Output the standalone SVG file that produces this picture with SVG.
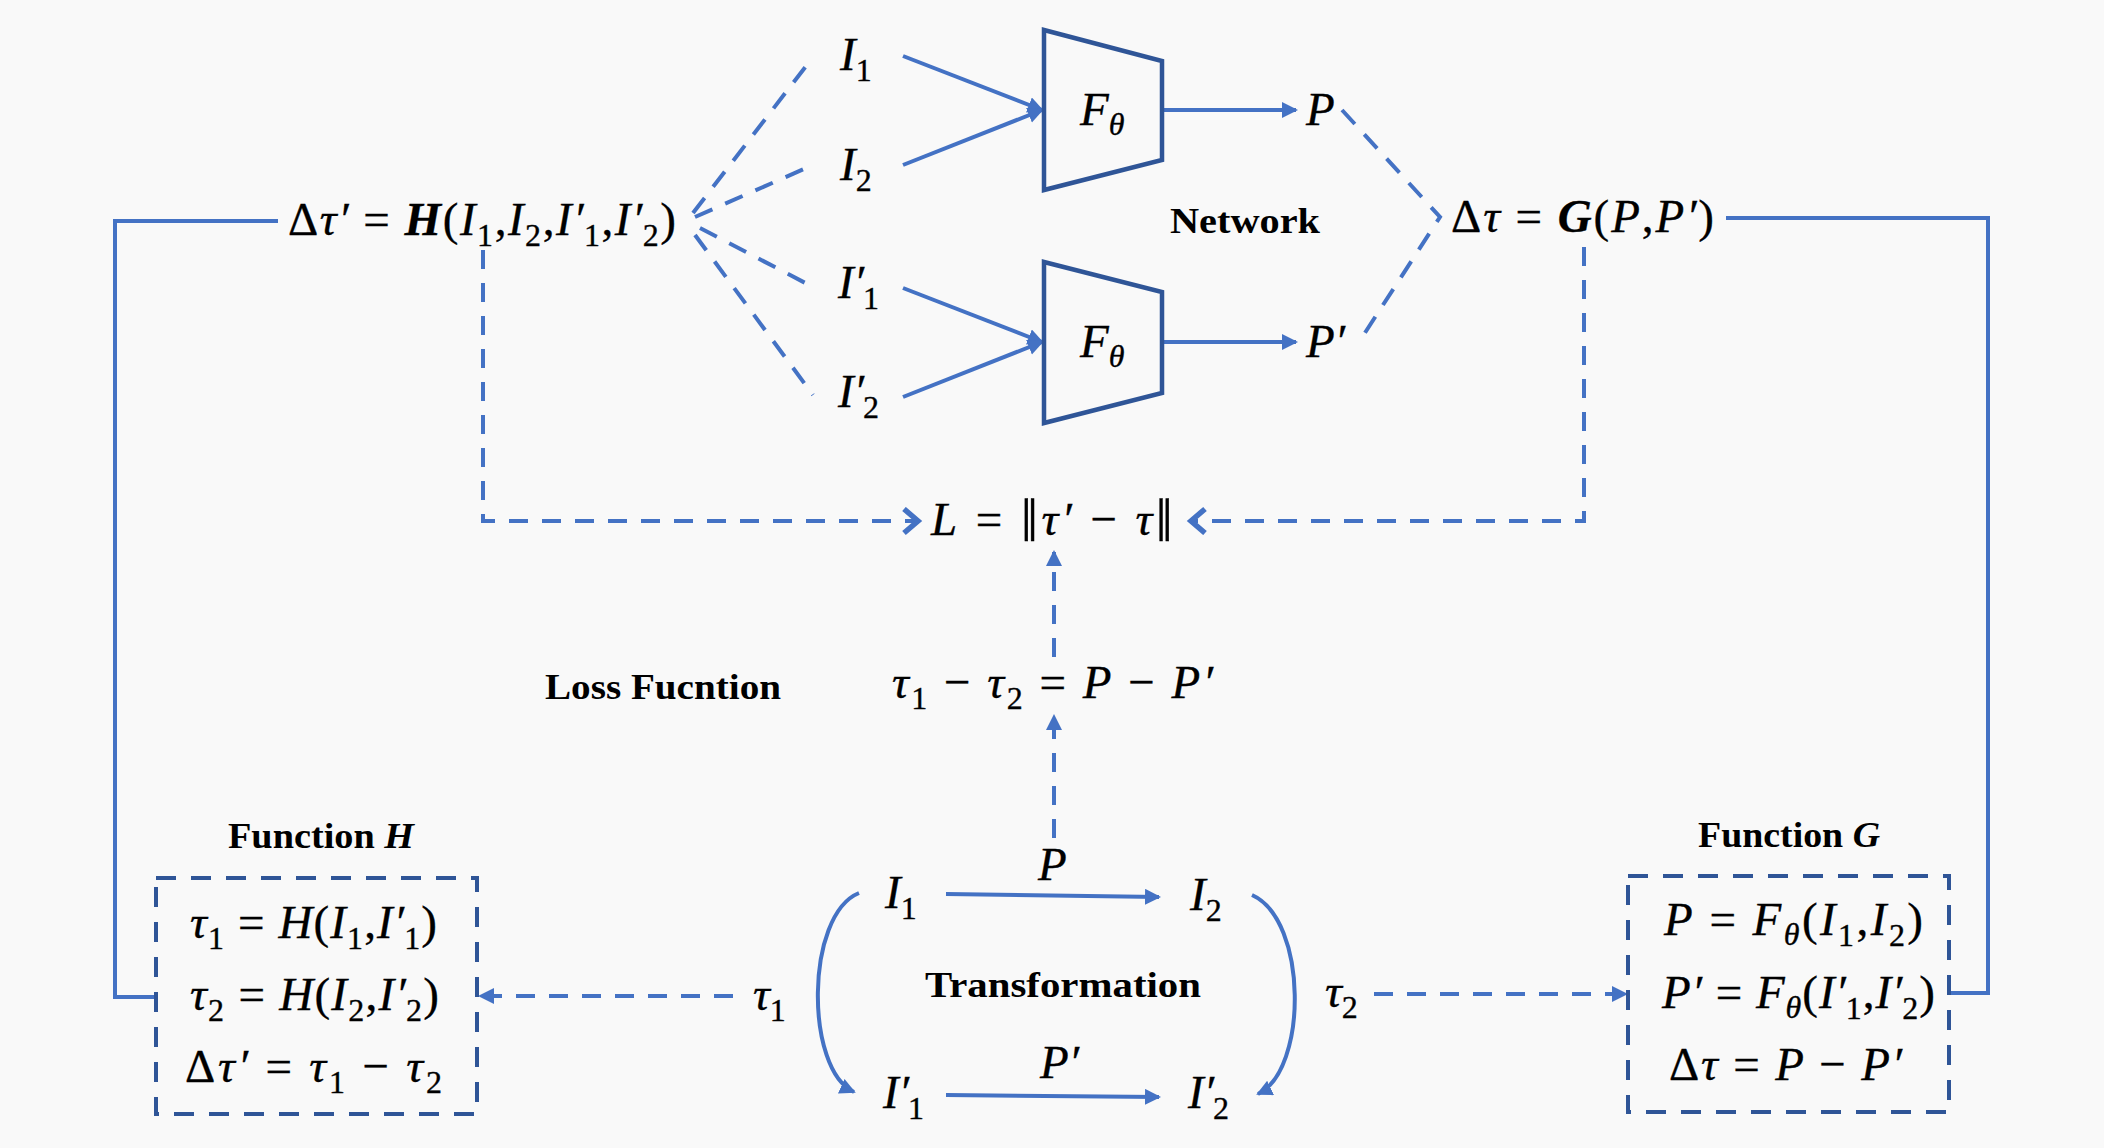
<svg xmlns="http://www.w3.org/2000/svg" width="2104" height="1148" viewBox="0 0 2104 1148">
<defs>
<style>
.m{font-family:"Liberation Serif","DejaVu Serif",serif;font-size:47px;fill:#000;stroke:#000;stroke-width:0.35px}
.i{font-style:italic}
.bi{font-style:italic;font-weight:bold}
.s{font-size:32px}
.nb{font-size:62px}
.b{font-family:"Liberation Serif","DejaVu Serif",serif;font-weight:bold;font-size:36px;fill:#000}
.ln{fill:none;stroke:#4472C4;stroke-width:4}
.dl{fill:none;stroke:#4472C4;stroke-width:4;stroke-dasharray:19 14}
.tz{fill:none;stroke:#2F5597;stroke-width:4.5;stroke-linejoin:miter}
.bx{fill:none;stroke:#2F5597;stroke-width:4;stroke-dasharray:20 15}
</style>
<marker id="tri" markerUnits="userSpaceOnUse" markerWidth="18" markerHeight="18" refX="14" refY="8" orient="auto">
<path d="M0,0 L16,8 L0,16 z" fill="#4472C4"/>
</marker>
<marker id="chev" markerUnits="userSpaceOnUse" markerWidth="26" markerHeight="30" refX="18" refY="14" orient="auto">
<path d="M3,2 L17,14 L3,26" fill="none" stroke="#4472C4" stroke-width="5.5"/>
</marker>
</defs>
<rect width="2104" height="1148" fill="#F9F9F9"/>

<g id="connectors">
<polyline class="ln" points="278,221 115,221 115,997 156,997"/>
<polyline class="ln" points="1726,218 1988,218 1988,993 1949,993"/>
<line class="dl" x1="693" y1="213" x2="813" y2="57"/>
<line class="dl" x1="695" y1="217" x2="813" y2="165"/>
<line class="dl" x1="700" y1="228" x2="813" y2="287"/>
<line class="dl" x1="695" y1="235" x2="813" y2="395"/>
<line class="ln" x1="903" y1="56" x2="1042" y2="110" marker-end="url(#tri)"/>
<line class="ln" x1="903" y1="165" x2="1042" y2="110" marker-end="url(#tri)"/>
<line class="ln" x1="903" y1="288" x2="1042" y2="342" marker-end="url(#tri)"/>
<line class="ln" x1="903" y1="397" x2="1042" y2="342" marker-end="url(#tri)"/>
<line class="ln" x1="1162" y1="110" x2="1296" y2="110" marker-end="url(#tri)"/>
<line class="ln" x1="1162" y1="342" x2="1296" y2="342" marker-end="url(#tri)"/>
<polyline class="dl" points="1342,110 1440,217 1359,342"/>
<polyline class="dl" points="483,250 483,521 919,521" marker-end="url(#chev)"/>
<polyline class="dl" points="1584,247 1584,521 1190,521" marker-end="url(#chev)"/>
<line class="dl" x1="1054" y1="657" x2="1054" y2="552" marker-end="url(#tri)"/>
<line class="dl" x1="1054" y1="838" x2="1054" y2="716" marker-end="url(#tri)"/>
<line class="ln" x1="946" y1="894" x2="1159" y2="897" marker-end="url(#tri)"/>
<line class="ln" x1="946" y1="1095" x2="1159" y2="1097" marker-end="url(#tri)"/>
<path class="ln" d="M859,893 C805,915 805,1070 854,1092" marker-end="url(#tri)"/>
<path class="ln" d="M1252,895 C1308,920 1308,1070 1258,1094" marker-end="url(#tri)"/>
<line class="dl" x1="733" y1="996" x2="480" y2="996" marker-end="url(#tri)"/>
<line class="dl" x1="1374" y1="994" x2="1626" y2="994" marker-end="url(#tri)"/>
</g>

<g id="node-H-expr">
<text class="m" x="288" y="235" textLength="388" lengthAdjust="spacing">Δ<tspan class="i">τ′</tspan> = <tspan class="bi">H</tspan>(<tspan class="i">I</tspan><tspan class="s" dy="11">1</tspan><tspan dy="-11">,</tspan><tspan class="i">I</tspan><tspan class="s" dy="11">2</tspan><tspan dy="-11">,</tspan><tspan class="i">I′</tspan><tspan class="s" dx="-1" dy="11">1</tspan><tspan dy="-11">,</tspan><tspan class="i">I′</tspan><tspan class="s" dx="-1" dy="11">2</tspan><tspan dy="-11">)</tspan></text>
</g>

<g id="node-I1"><text class="m" x="840" y="70"><tspan class="i">I</tspan><tspan class="s" dy="11">1</tspan></text></g>
<g id="node-I2"><text class="m" x="840" y="180"><tspan class="i">I</tspan><tspan class="s" dy="11">2</tspan></text></g>
<g id="node-I1p"><text class="m" x="838" y="298"><tspan class="i">I′</tspan><tspan class="s" dx="-1" dy="11">1</tspan></text></g>
<g id="node-I2p"><text class="m" x="838" y="407"><tspan class="i">I′</tspan><tspan class="s" dx="-1" dy="11">2</tspan></text></g>

<g id="node-F1">
<polygon class="tz" points="1044,30 1162,61 1162,160 1044,190"/>
<text class="m" x="1080" y="125"><tspan class="i">F</tspan><tspan class="i s" dy="10">θ</tspan></text>
</g>
<g id="node-F2">
<polygon class="tz" points="1044,262 1162,292 1162,393 1044,423"/>
<text class="m" x="1080" y="357"><tspan class="i">F</tspan><tspan class="i s" dy="10">θ</tspan></text>
</g>

<g id="node-P"><text class="m i" x="1306" y="125">P</text></g>
<g id="node-Pp"><text class="m i" x="1306" y="357">P′</text></g>

<g id="node-network"><text class="b" x="1170" y="233" textLength="150" lengthAdjust="spacingAndGlyphs">Network</text></g>

<g id="node-G-expr">
<text class="m" x="1451" y="232" textLength="263" lengthAdjust="spacing">Δ<tspan class="i">τ</tspan> = <tspan class="bi">G</tspan>(<tspan class="i">P</tspan>,<tspan class="i">P′</tspan>)</text>
</g>

<g id="node-L">
<text class="m" x="931" y="535" textLength="242" lengthAdjust="spacing"><tspan class="i">L</tspan> = <tspan class="nb" dy="6">‖</tspan><tspan class="i" dy="-6">τ′</tspan> − <tspan class="i">τ</tspan><tspan class="nb" dy="6">‖</tspan></text>
</g>

<g id="node-loss-label"><text class="b" x="545" y="699" textLength="236" lengthAdjust="spacingAndGlyphs">Loss Fucntion</text></g>

<g id="node-tau-eq">
<text class="m" x="892" y="698" textLength="321" lengthAdjust="spacing"><tspan class="i">τ</tspan><tspan class="s" dy="11">1</tspan><tspan dy="-11"> − </tspan><tspan class="i">τ</tspan><tspan class="s" dy="11">2</tspan><tspan dy="-11"> = </tspan><tspan class="i">P</tspan> − <tspan class="i">P′</tspan></text>
</g>

<g id="node-function-H">
<text class="b" x="228" y="848" textLength="186" lengthAdjust="spacingAndGlyphs">Function <tspan font-style="italic">H</tspan></text>
<rect class="bx" x="156" y="878" width="321" height="236"/>
<text class="m" x="190" y="938" textLength="247" lengthAdjust="spacing"><tspan class="i">τ</tspan><tspan class="s" dy="11">1</tspan><tspan dy="-11"> = </tspan><tspan class="i">H</tspan>(<tspan class="i">I</tspan><tspan class="s" dy="11">1</tspan><tspan dy="-11">,</tspan><tspan class="i">I′</tspan><tspan class="s" dx="-1" dy="11">1</tspan><tspan dy="-11">)</tspan></text>
<text class="m" x="190" y="1010" textLength="249" lengthAdjust="spacing"><tspan class="i">τ</tspan><tspan class="s" dy="11">2</tspan><tspan dy="-11"> = </tspan><tspan class="i">H</tspan>(<tspan class="i">I</tspan><tspan class="s" dy="11">2</tspan><tspan dy="-11">,</tspan><tspan class="i">I′</tspan><tspan class="s" dx="-1" dy="11">2</tspan><tspan dy="-11">)</tspan></text>
<text class="m" x="185" y="1082" textLength="257" lengthAdjust="spacing">Δ<tspan class="i">τ′</tspan> = <tspan class="i">τ</tspan><tspan class="s" dy="11">1</tspan><tspan dy="-11"> − </tspan><tspan class="i">τ</tspan><tspan class="s" dy="11">2</tspan></text>
</g>

<g id="node-function-G">
<text class="b" x="1698" y="847" textLength="182" lengthAdjust="spacingAndGlyphs">Function <tspan font-style="italic">G</tspan></text>
<rect class="bx" x="1628" y="876" width="321" height="236"/>
<text class="m" x="1664" y="935" textLength="259" lengthAdjust="spacing"><tspan class="i">P</tspan> = <tspan class="i">F</tspan><tspan class="i s" dy="10">θ</tspan><tspan dy="-10">(</tspan><tspan class="i">I</tspan><tspan class="s" dy="11">1</tspan><tspan dy="-11">,</tspan><tspan class="i">I</tspan><tspan class="s" dy="11">2</tspan><tspan dy="-11">)</tspan></text>
<text class="m" x="1662" y="1008" textLength="273" lengthAdjust="spacing"><tspan class="i">P′</tspan> = <tspan class="i">F</tspan><tspan class="i s" dy="10">θ</tspan><tspan dy="-10">(</tspan><tspan class="i">I′</tspan><tspan class="s" dx="-1" dy="11">1</tspan><tspan dy="-11">,</tspan><tspan class="i">I′</tspan><tspan class="s" dx="-1" dy="11">2</tspan><tspan dy="-11">)</tspan></text>
<text class="m" x="1669" y="1080" textLength="233" lengthAdjust="spacing">Δ<tspan class="i">τ</tspan> = <tspan class="i">P</tspan> − <tspan class="i">P′</tspan></text>
</g>

<g id="node-transformation">
<text class="b" x="925" y="997" textLength="276" lengthAdjust="spacingAndGlyphs">Transformation</text>
<text class="m" x="885" y="908"><tspan class="i">I</tspan><tspan class="s" dy="11">1</tspan></text>
<text class="m" x="1190" y="910"><tspan class="i">I</tspan><tspan class="s" dy="11">2</tspan></text>
<text class="m" x="883" y="1108"><tspan class="i">I′</tspan><tspan class="s" dx="-1" dy="11">1</tspan></text>
<text class="m" x="1188" y="1108"><tspan class="i">I′</tspan><tspan class="s" dx="-1" dy="11">2</tspan></text>
<text class="m i" x="1038" y="880">P</text>
<text class="m i" x="1040" y="1078">P′</text>
</g>

<g id="node-tau1"><text class="m" x="753" y="1010"><tspan class="i">τ</tspan><tspan class="s" dy="11">1</tspan></text></g>
<g id="node-tau2"><text class="m" x="1325" y="1007"><tspan class="i">τ</tspan><tspan class="s" dy="11">2</tspan></text></g>
</svg>
